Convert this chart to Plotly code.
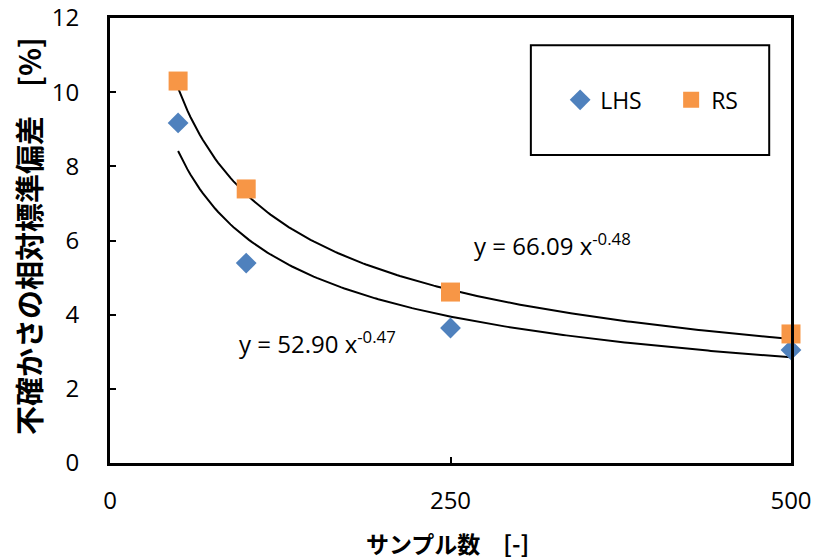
import numpy as np
import plotly.graph_objects as go

sample_sizes = [50, 100, 250, 500]
lhs_values = [9.17, 5.39, 3.64, 3.05]
rs_values = [10.30, 7.39, 4.61, 3.48]

# Power trendline coefficients, as printed on the chart (y = a * x^b)
lhs_fit = {"a": 52.90, "b": -0.47}
rs_fit = {"a": 66.09, "b": -0.48}

x_ticks = [0, 250, 500]
y_ticks = [0, 2, 4, 6, 8, 10, 12]

tick_font = dict(family="Open Sans, Liberation Sans, sans-serif", size=24, color="black")
legend_font = dict(family="Open Sans, Liberation Sans, sans-serif", size=23, color="black")
cjk_font = "Noto Sans CJK JP"

xs = np.linspace(min(sample_sizes), max(sample_sizes), 200)

fig = go.Figure()
for fit in (lhs_fit, rs_fit):
    fig.add_trace(go.Scatter(
        x=xs, y=fit["a"] * xs ** fit["b"], mode="lines",
        line=dict(color="black", width=2), showlegend=False, hoverinfo="skip"))

fig.add_trace(go.Scatter(
    x=sample_sizes, y=lhs_values, mode="markers", name="LHS",
    marker=dict(symbol="diamond", size=16, color="#4F81BD"), cliponaxis=False))
fig.add_trace(go.Scatter(
    x=sample_sizes, y=rs_values, mode="markers", name="RS",
    marker=dict(symbol="square", size=19, color="#F79646"), cliponaxis=False))

axis_common = dict(
    ticks="inside", ticklen=6, tickwidth=2, tickcolor="black",
    showline=True, linewidth=3, linecolor="black", mirror=True,
    showgrid=False, zeroline=False, tickfont=tick_font, automargin=False)
fig.update_xaxes(range=[0, 500], tickvals=x_ticks, ticklabelstandoff=14, **axis_common)
fig.update_yaxes(range=[0, 12], tickvals=y_ticks, ticklabelstandoff=23, **axis_common)

annotations = [
    dict(x=0.496, y=0, xref="paper", yref="paper", yshift=-80, yanchor="middle",
         text="<b>サンプル数\u3000[-]</b>", showarrow=False,
         font=dict(family=cjk_font, size=23, color="black")),
    dict(x=0, y=0.51, xref="paper", yref="paper", xshift=-82, xanchor="center",
         textangle=-90, text="<b>不確かさの相対標準偏差\u3000[%]</b>", showarrow=False,
         font=dict(family=cjk_font, size=29, color="black")),
    dict(x=266, y=5.9, xref="x", yref="y", xanchor="left",
         text=f"y = {rs_fit['a']:.2f} x<sup>{rs_fit['b']:.2f}</sup>", showarrow=False,
         font=tick_font),
    dict(x=93, y=3.25, xref="x", yref="y", xanchor="left",
         text=f"y = {lhs_fit['a']:.2f} x<sup>{lhs_fit['b']:.2f}</sup>", showarrow=False,
         font=tick_font),
]

fig.update_layout(
    width=814, height=560,
    margin=dict(l=110, r=23, t=18, b=97, autoexpand=False),
    paper_bgcolor="white", plot_bgcolor="white",
    showlegend=True,
    legend=dict(orientation="h", x=0.824, y=0.816, xanchor="center", yanchor="middle",
                font=legend_font, bgcolor="rgba(0,0,0,0)",
                entrywidth=66, entrywidthmode="pixels"),
    shapes=[dict(type="rect", xref="paper", yref="paper", x0=0.618, x1=0.968,
                 y0=0.692, y1=0.939, line=dict(color="black", width=2))],
    annotations=annotations,
)

fig.write_html("out.html", config={"displayModeBar": False},
               post_script="document.body.style.margin='0';document.body.style.padding='0';"
                           "document.body.style.overflow='hidden';")
